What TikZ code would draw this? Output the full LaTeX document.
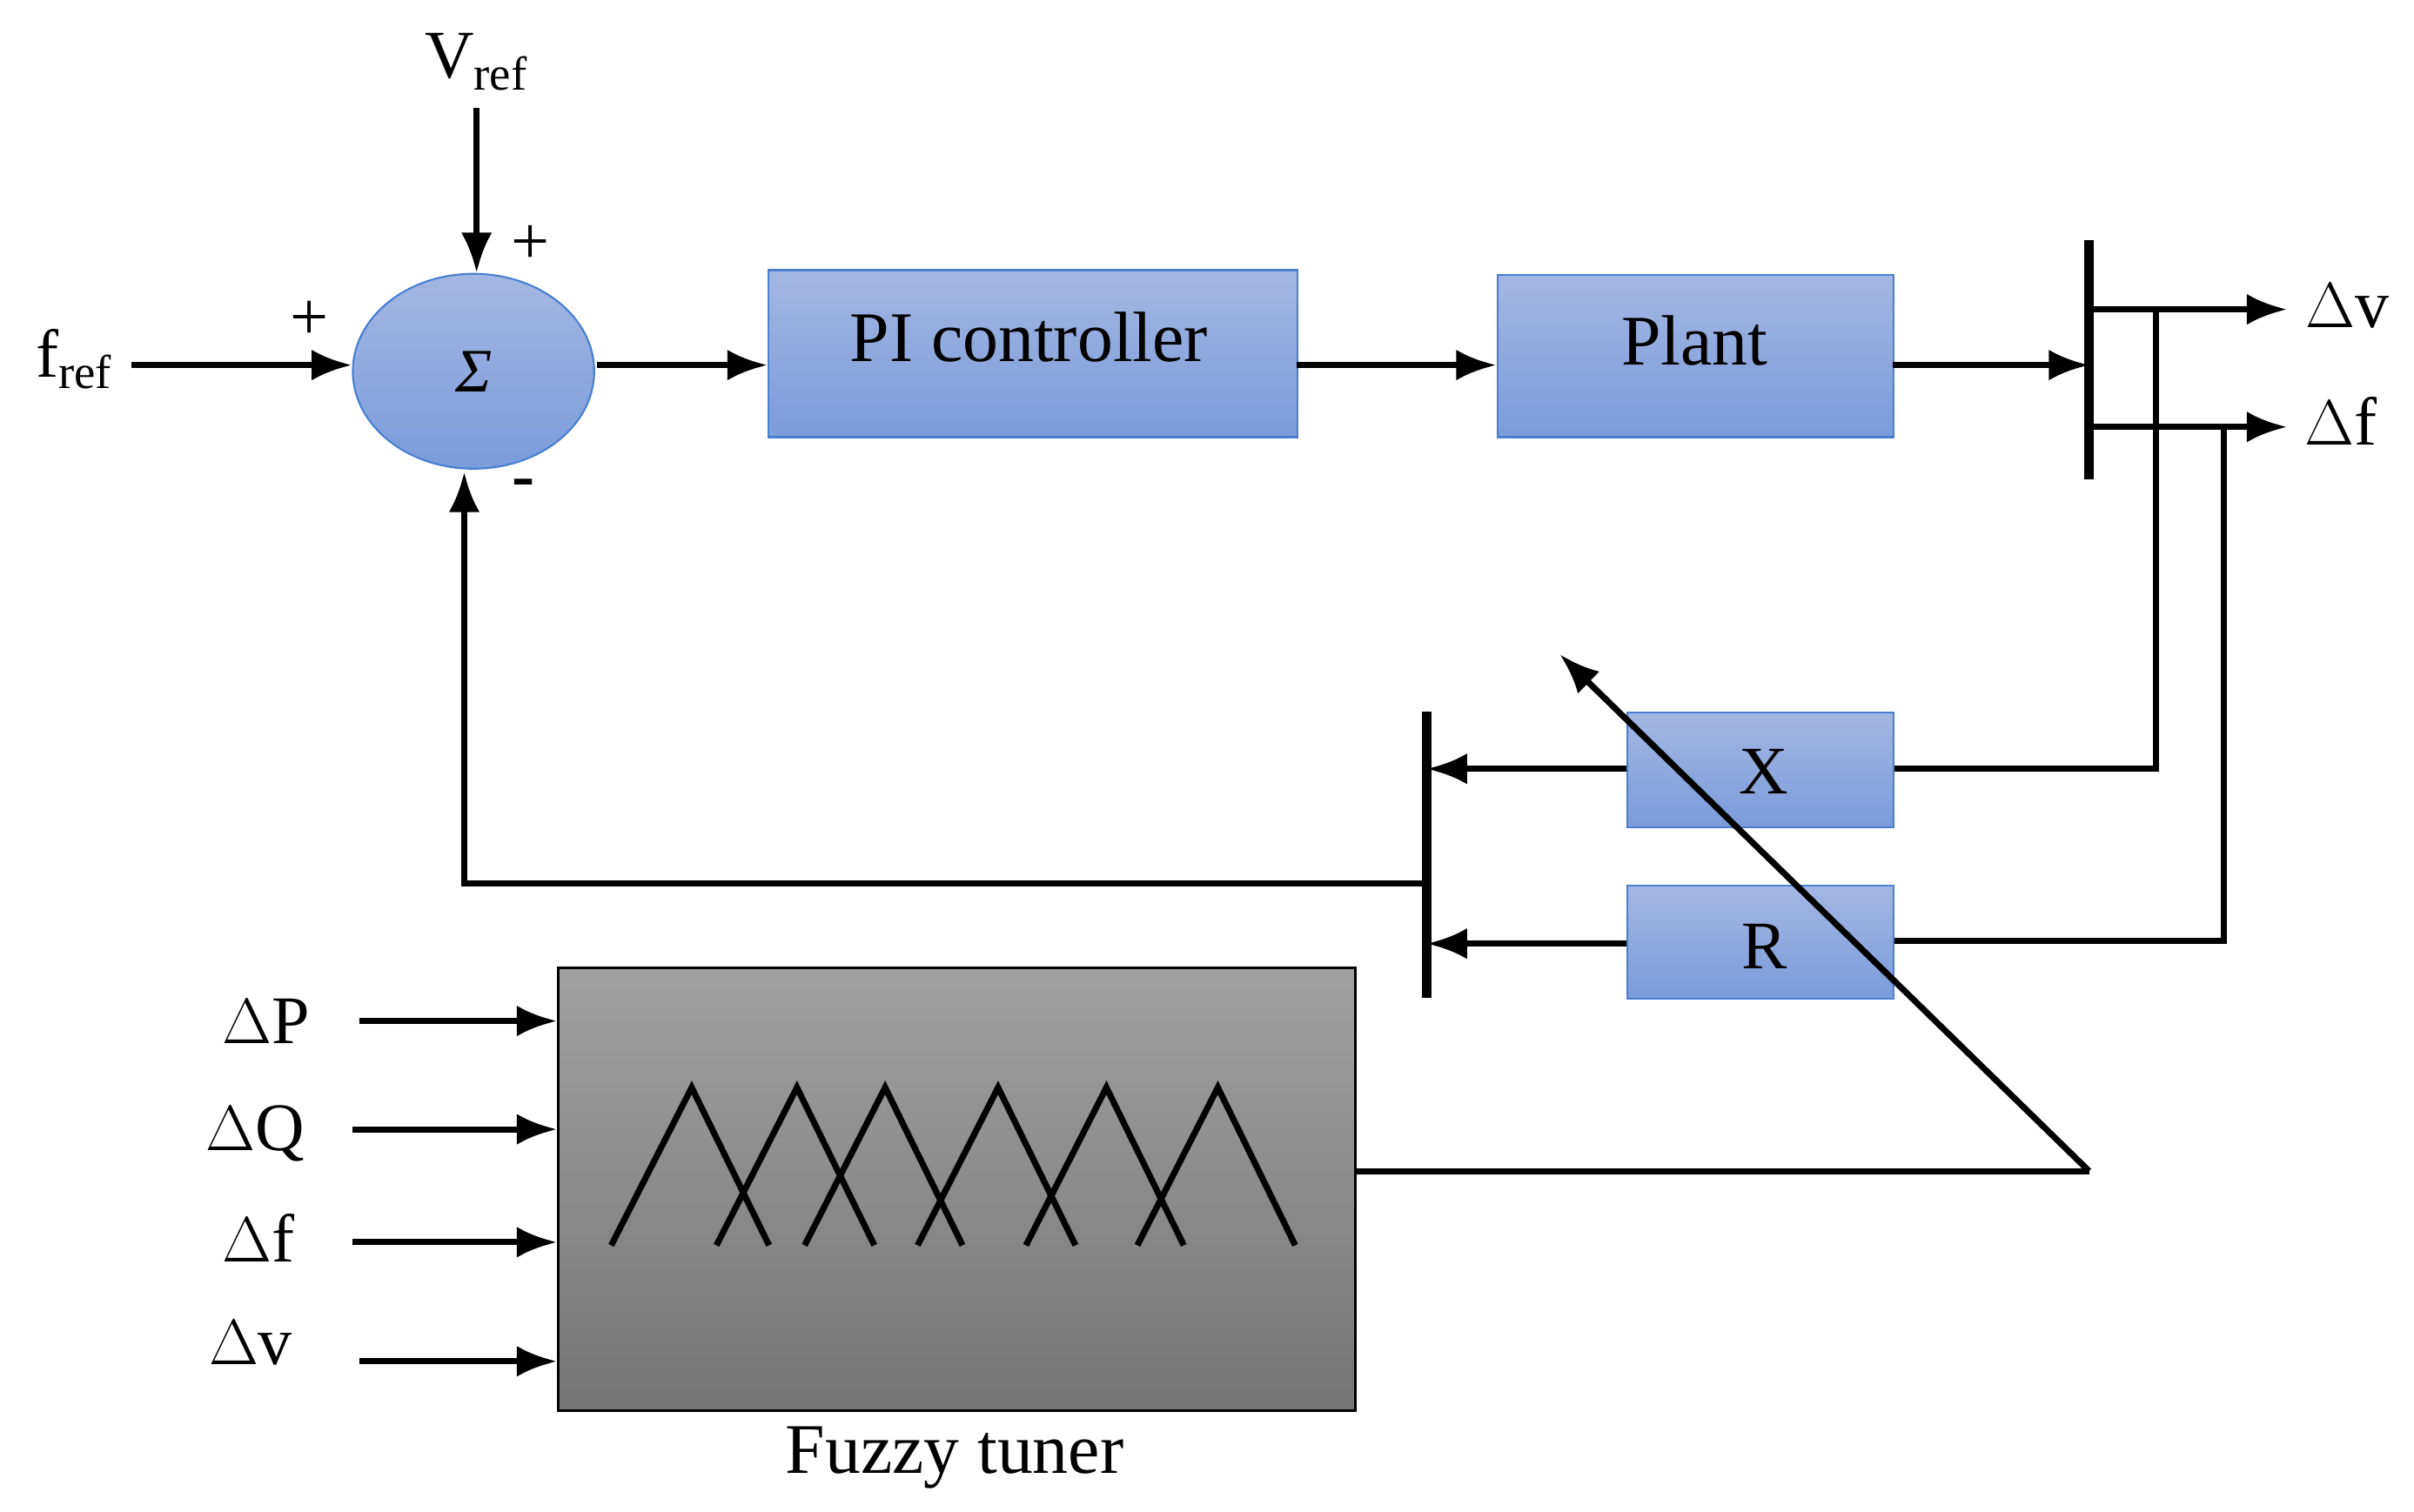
\documentclass[tikz,border=0pt]{standalone}
\usepackage{fontspec}
\setmainfont{Liberation Serif}
\usetikzlibrary{arrows.meta,shapes.geometric}
\definecolor{btop}{HTML}{A3B7E3}
\definecolor{bbot}{HTML}{7B9BDA}
\definecolor{bdr}{HTML}{4A7FD0}
\begin{document}
\begin{tikzpicture}[x=0.5pt,y=-0.5pt,
  ln/.style={line width=2pt},
  ar/.style={line width=2pt,-{Latex[length=13pt,width=10pt]}},
  blk/.style={draw=bdr,line width=0.6pt,top color=btop,bottom color=bbot,anchor=north west,inner sep=0},
  lab/.style={font=\fontsize{22}{24}\selectfont,inner sep=0}]
\useasboundingbox (0,0) rectangle (1560,977);
\node[ellipse,draw=bdr,line width=0.6pt,top color=btop,bottom color=bbot,minimum width=78pt,minimum height=63pt,inner sep=0] (s) at (306,240) {\fontsize{20}{24}\selectfont\itshape Σ};
\node[lab] (vref) at (308,40) {V\textsubscript{ref}};
\node[lab] (fref) at (48,232) {f\textsubscript{ref}};
\node[lab] (p1) at (343,158) {+};
\node[lab] (p2) at (200,207) {+};
\node[lab] (m) at (338,316) {\textbf{-}};
\coordinate (v0) at (308,70);
\draw[ar] (v0) -- (s.north-|v0);
\coordinate (f0) at (85,236);
\draw[ar] (f0) -- (s.west|-f0);
\node[blk,minimum width=171pt,minimum height=54pt] (pi) at (496,174) {};
\node[lab,font=\fontsize{23}{24}\selectfont] (pit) at (665,218) {PI controller};
\node[blk,minimum width=128pt,minimum height=52.5pt] (pl) at (967,177) {};
\node[lab,font=\fontsize{23}{24}\selectfont] (plt) at (1095,220) {Plant};
\draw[ar] (386,236) -- (pi.west|-0,236);
\draw[ar] (838,236) -- (pl.west|-0,236);
\coordinate (b1t) at (1350,155); \coordinate (b1b) at (1350,310);
\draw[line width=3pt] (b1t) -- (b1b);
\draw[ar] (1223,236) -- (1350,236);
\coordinate (ov) at (1478,200); \coordinate (of) at (1478,276);
\draw[ar] (1350,200) -- (ov);
\draw[ar] (1350,276) -- (of);
\node[lab] (dv) at (1517,198) {$\Delta$v};
\node[lab] (df) at (1513,272) {$\Delta$f};
\node[blk,minimum width=86pt,minimum height=37pt] (x) at (1051,460) {};
\node[lab] (xt) at (1140,499) {X};
\node[blk,minimum width=86pt,minimum height=36.5pt] (r) at (1051,572) {};
\node[lab] (rt) at (1140,612) {R};
\draw[ln] (1393,200) -- (1393,497) -- (x.east|-0,497);
\draw[ln] (1437,276) -- (1437,608) -- (r.east|-0,608);
\coordinate (b2t) at (922,460); \coordinate (b2b) at (922,645);
\draw[line width=3pt] (b2t) -- (b2b);
\draw[ar] (x.west|-0,497) -- (922,497);
\draw[ar] (r.west|-0,610) -- (922,610);
\coordinate (fb) at (300,305);
\draw[ar] (922,571) -- (300,571) -- (fb);
\node[draw=black,line width=0.8pt,top color=black!37,bottom color=black!54,minimum width=257.5pt,minimum height=143pt,anchor=north west,inner sep=0] (fz) at (360,625) {};
\node[lab,font=\fontsize{23}{24}\selectfont] (fzt) at (617,942) {Fuzzy tuner};
\foreach \p in {447,515,572,645,715,787}
  \draw[ln,line join=miter] (\p-52,805) -- (\p,703) -- (\p+50,805);
\node[lab] (iP) at (172,660) {$\Delta$P};
\node[lab] (iQ) at (165,733) {$\Delta$Q};
\node[lab] (if) at (167,800) {$\Delta$f};
\node[lab] (iv) at (162,868) {$\Delta$v};
\draw[ar] (232,660) -- (fz.west|-0,660);
\draw[ar] (228,730) -- (fz.west|-0,730);
\draw[ar] (228,803) -- (fz.west|-0,803);
\draw[ar] (232,880) -- (fz.west|-0,880);
\coordinate (c) at (1350,757); \coordinate (tip) at (1008,423);
\draw[ln] (fz.east|-c) -- (c);
\draw[ar] (c) -- (tip);
\end{tikzpicture}
\end{document}
